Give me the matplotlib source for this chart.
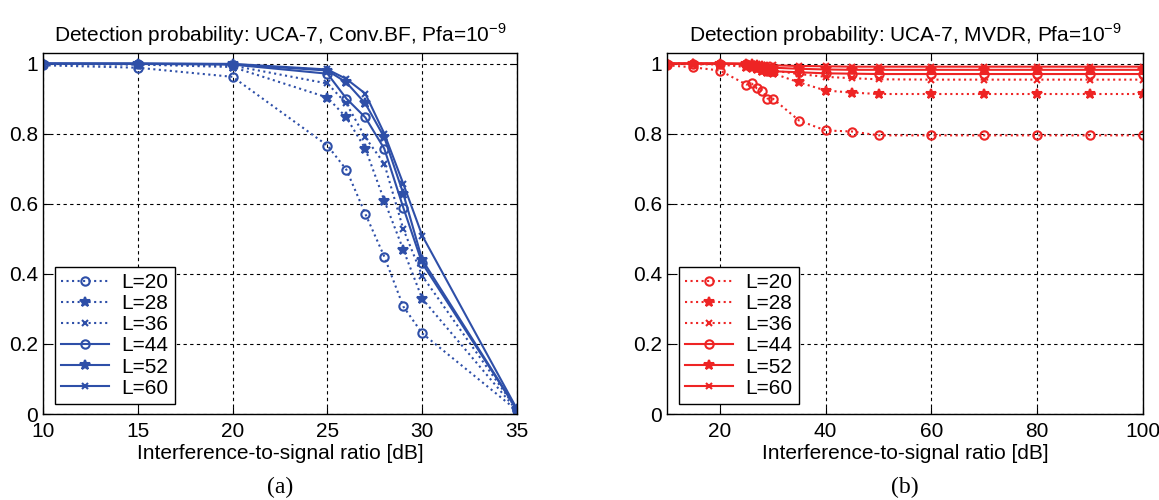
import numpy as np
import matplotlib
matplotlib.use("Agg")
from matplotlib import pyplot as plt

plt.rcParams['font.family'] = ['Liberation Sans', 'DejaVu Sans']
plt.rcParams['mathtext.fontset'] = 'custom'
plt.rcParams['mathtext.rm'] = 'Liberation Sans'

# (a) conventional beamformer
isr_a = [10, 15, 20, 25, 26, 27, 28, 29, 30, 35]
pd_bf_L20 = [0.995, 0.988, 0.962, 0.766, 0.697, 0.571, 0.449, 0.307, 0.230, 0.010]
pd_bf_L28 = [0.998, 0.997, 0.990, 0.903, 0.846, 0.757, 0.609, 0.469, 0.329, 0.010]
pd_bf_L36 = [0.999, 0.998, 0.994, 0.943, 0.886, 0.789, 0.714, 0.528, 0.394, 0.012]
pd_bf_L44 = [1.000, 0.999, 0.997, 0.971, 0.900, 0.846, 0.757, 0.589, 0.430, 0.012]
pd_bf_L52 = [1.000, 1.000, 0.998, 0.980, 0.946, 0.886, 0.789, 0.629, 0.440, 0.013]
pd_bf_L60 = [1.000, 1.000, 0.999, 0.983, 0.956, 0.914, 0.800, 0.657, 0.509, 0.014]

# (b) MVDR
isr_b = [10, 15, 20, 25, 26, 27, 28, 29, 30, 35, 40, 45, 50, 60, 70, 80, 90, 100]
pd_mv_L20 = [0.995, 0.989, 0.980, 0.940, 0.943, 0.929, 0.923, 0.900, 0.900, 0.837,
             0.809, 0.806, 0.795, 0.795, 0.795, 0.795, 0.795, 0.795]
pd_mv_L28 = [1.000, 0.998, 0.997, 0.990, 0.988, 0.985, 0.980, 0.975, 0.972, 0.946,
             0.923, 0.917, 0.913, 0.913, 0.913, 0.913, 0.913, 0.913]
pd_mv_L36 = [1.000, 1.000, 0.999, 0.995, 0.993, 0.990, 0.985, 0.983, 0.980, 0.970,
             0.962, 0.958, 0.955, 0.954, 0.954, 0.954, 0.954, 0.954]
pd_mv_L44 = [1.000, 1.000, 1.000, 0.998, 0.995, 0.990, 0.985, 0.980, 0.978, 0.975,
             0.972, 0.971, 0.970, 0.970, 0.970, 0.970, 0.970, 0.970]
pd_mv_L52 = [1.000, 1.000, 1.000, 0.999, 0.998, 0.996, 0.993, 0.990, 0.988, 0.985,
             0.983, 0.982, 0.982, 0.982, 0.982, 0.982, 0.982, 0.982]
pd_mv_L60 = [1.000, 1.000, 1.000, 1.000, 0.999, 0.998, 0.997, 0.996, 0.995, 0.993,
             0.992, 0.991, 0.991, 0.991, 0.991, 0.991, 0.991, 0.991]

labels = ['L=20', 'L=28', 'L=36', 'L=44', 'L=52', 'L=60']
styles = [':', ':', ':', '-', '-', '-']
markers = ['o', '*', 'x', 'o', '*', 'x']
msizes = [6, 7, 4, 6, 7, 4]

fig = plt.figure(figsize=(11.59, 5.0), dpi=100)
ax1 = fig.add_axes([0.0371, 0.172, 0.409, 0.722])
ax2 = fig.add_axes([0.5755, 0.172, 0.4107, 0.722])


def draw(ax, x, series, color, xlim, xticks, title):
    for y, lab, ls, mk, ms in zip(series, labels, styles, markers, msizes):
        ax.plot(x, y, linestyle=ls, marker=mk, markersize=ms, color=color,
                markerfacecolor='none' if mk == 'o' else color,
                markeredgewidth=1.5, linewidth=1.5, label=lab)
    ax.set_xlim(*xlim)
    ax.set_ylim(0, 1.03)
    ax.set_xticks(xticks)
    ax.set_yticks([0, 0.2, 0.4, 0.6, 0.8, 1])
    ax.set_yticklabels(['0', '0.2', '0.4', '0.6', '0.8', '1'])
    ax.grid(True, color='black', linestyle=(0, (3, 3)), linewidth=0.8)
    ax.tick_params(direction='in', labelsize=15, length=5, top=True, right=True)
    ax.tick_params(axis='x', pad=6)
    for s in ax.spines.values():
        s.set_linewidth(1.0)
    ax.set_title(title, fontsize=15, pad=8)
    ax.set_xlabel('Interference-to-signal ratio [dB]', fontsize=15, labelpad=2)
    leg = ax.legend(loc='lower left', bbox_to_anchor=(0.025, 0.028), borderaxespad=0,
                    fontsize=15, numpoints=1, handlelength=2.3, fancybox=False,
                    framealpha=1, edgecolor='black', labelspacing=0.1,
                    borderpad=0.3, handletextpad=0.6)
    leg.get_frame().set_linewidth(1.0)


draw(ax1, isr_a, [pd_bf_L20, pd_bf_L28, pd_bf_L36, pd_bf_L44, pd_bf_L52, pd_bf_L60],
     '#2E4FA8', (10, 35), [10, 15, 20, 25, 30, 35],
     'Detection probability: UCA-7, Conv.BF, Pfa=10$^{-9}$')
draw(ax2, isr_b, [pd_mv_L20, pd_mv_L28, pd_mv_L36, pd_mv_L44, pd_mv_L52, pd_mv_L60],
     '#EE2424', (10, 100), [20, 40, 60, 80, 100],
     'Detection probability: UCA-7, MVDR, Pfa=10$^{-9}$')

fig.text(0.0371 + 0.409 / 2, 0.026, '(a)', ha='center', va='center',
         fontsize=17, family=['Liberation Serif', 'DejaVu Serif'])
fig.text(0.5755 + 0.4107 / 2, 0.026, '(b)', ha='center', va='center',
         fontsize=17, family=['Liberation Serif', 'DejaVu Serif'])

fig.savefig('out.png', dpi=100)
